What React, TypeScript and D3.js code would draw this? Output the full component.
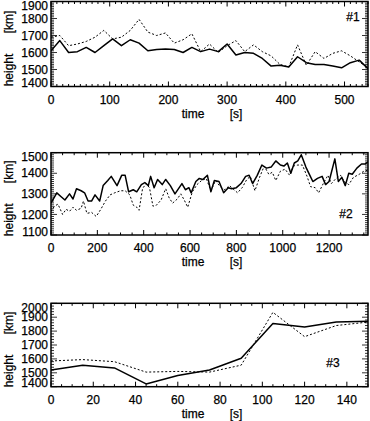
import React from "react";
import * as d3 from "d3";

// ---------- Panel #1 data ----------
const p1Time = [0, 15, 30, 45, 60, 75, 90, 105, 120, 135, 150, 165, 180, 195, 210, 225, 240, 255, 270, 285, 300, 315, 330, 345, 360, 375, 390, 405, 420, 435, 450, 465, 480, 495, 510, 525, 540];
const p1Solid = [1610, 1670, 1600, 1605, 1630, 1600, 1640, 1680, 1640, 1675, 1655, 1610, 1618, 1620, 1618, 1600, 1630, 1605, 1620, 1605, 1650, 1585, 1600, 1595, 1565, 1520, 1525, 1515, 1575, 1540, 1530, 1530, 1520, 1510, 1540, 1555, 1505];
const p1Dotted = [1690, 1700, 1640, 1650, 1665, 1690, 1730, 1680, 1690, 1730, 1795, 1720, 1700, 1715, 1655, 1675, 1710, 1605, 1650, 1600, 1640, 1670, 1605, 1645, 1605, 1580, 1530, 1515, 1645, 1525, 1605, 1565, 1595, 1610, 1580, 1545, 1510];

// ---------- Panel #2 data ----------
const p2SolidTime = [0, 25, 45, 60, 80, 95, 110, 130, 145, 160, 175, 190, 210, 225, 245, 260, 285, 305, 320, 335, 355, 370, 390, 405, 420, 430, 445, 460, 480, 495, 515, 535, 565, 580, 595, 605, 625, 640, 655, 675, 690, 705, 725, 745, 765, 780, 800, 820, 840, 855, 870, 890, 910, 930, 950, 970, 990, 1005, 1020, 1035, 1050, 1065, 1080, 1100, 1115, 1130, 1150, 1170, 1185, 1200, 1225, 1240, 1255, 1270, 1285, 1300, 1320, 1340, 1355, 1368];
const p2Solid = [1255, 1305, 1285, 1270, 1300, 1275, 1325, 1315, 1305, 1265, 1265, 1295, 1265, 1340, 1365, 1385, 1340, 1390, 1390, 1310, 1320, 1310, 1345, 1355, 1340, 1385, 1330, 1370, 1345, 1370, 1340, 1300, 1350, 1320, 1330, 1305, 1360, 1375, 1370, 1390, 1310, 1365, 1360, 1305, 1330, 1325, 1330, 1350, 1385, 1390, 1350, 1390, 1440, 1425, 1430, 1460, 1440, 1435, 1450, 1400, 1450, 1460, 1490, 1430, 1395, 1360, 1375, 1385, 1345, 1360, 1470, 1360, 1380, 1340, 1400, 1395, 1425, 1445, 1445, 1455];
const p2DottedTime = [0, 15, 30, 50, 65, 80, 95, 110, 130, 140, 155, 175, 195, 215, 235, 255, 275, 300, 320, 340, 355, 370, 380, 395, 410, 425, 440, 455, 475, 495, 510, 525, 545, 560, 575, 590, 610, 630, 650, 670, 690, 710, 730, 750, 770, 790, 805, 825, 845, 860, 880, 900, 920, 940, 955, 970, 990, 1010, 1030, 1045, 1065, 1085, 1105, 1120, 1140, 1155, 1175, 1195, 1210, 1230, 1250, 1265, 1285, 1305, 1330, 1350, 1368];
const p2Dotted = [1215, 1240, 1250, 1200, 1225, 1215, 1235, 1220, 1230, 1265, 1205, 1210, 1190, 1225, 1265, 1295, 1305, 1315, 1315, 1295, 1245, 1235, 1220, 1325, 1350, 1330, 1240, 1245, 1270, 1325, 1280, 1255, 1275, 1300, 1270, 1235, 1310, 1345, 1365, 1375, 1315, 1365, 1335, 1320, 1340, 1320, 1305, 1330, 1370, 1385, 1315, 1380, 1435, 1395, 1405, 1365, 1410, 1420, 1390, 1435, 1440, 1440, 1385, 1335, 1330, 1305, 1350, 1390, 1350, 1375, 1390, 1360, 1345, 1380, 1395, 1410, 1415];

// ---------- Panel #3 data ----------
const p3Time = [0, 15, 30, 45, 60, 75, 90, 105, 120, 135, 150];
const p3Solid = [1520, 1555, 1535, 1420, 1480, 1520, 1605, 1855, 1830, 1865, 1870];
const p3Dotted = [1585, 1595, 1580, 1505, 1510, 1505, 1555, 1935, 1760, 1840, 1865];

const FONT = "'Liberation Sans', Arial, Helvetica, sans-serif";
const LEFT = 51;
const RIGHT = 368;

type PanelProps = {
  id: string;
  top: number;
  bottom: number;
  xDomain: [number, number];
  yDomain: [number, number];
  xMajor: number;
  xMinor: number;
  yMajor: number;
  yMinor: number;
  solidT: number[];
  solidV: number[];
  dotT: number[];
  dotV: number[];
  tag: string;
  tagX: number;
  tagY: number;
};

function range(a: number, b: number, step: number): number[] {
  const out: number[] = [];
  for (let v = a; v <= b + 1e-9; v += step) out.push(Math.round(v * 1000) / 1000);
  return out;
}

const textStyle = {
  fontSize: 12,
  fontFamily: FONT,
  fill: "#000",
  stroke: "#000",
  strokeWidth: 0.25,
} as const;

function Panel(p: PanelProps) {
  const x = d3.scaleLinear().domain(p.xDomain).range([LEFT, RIGHT]);
  const y = d3.scaleLinear().domain(p.yDomain).range([p.bottom, p.top]);
  const line = d3
    .line<[number, number]>()
    .x((d) => x(d[0]))
    .y((d) => y(d[1]));
  const solid = line(p.solidT.map((t, i) => [t, p.solidV[i]]) as [number, number][]) || "";
  const dotted = line(p.dotT.map((t, i) => [t, p.dotV[i]]) as [number, number][]) || "";

  const xMaj = range(Math.ceil(p.xDomain[0] / p.xMajor) * p.xMajor, p.xDomain[1], p.xMajor);
  const xMin = range(Math.ceil(p.xDomain[0] / p.xMinor) * p.xMinor, p.xDomain[1], p.xMinor);
  const yMaj = range(Math.ceil(p.yDomain[0] / p.yMajor) * p.yMajor, p.yDomain[1], p.yMajor);
  const yMin = range(Math.ceil(p.yDomain[0] / p.yMinor) * p.yMinor, p.yDomain[1], p.yMinor);

  const clipId = "clip-" + p.id;
  const midY = (p.top + p.bottom) / 2;
  const xLabelY = p.bottom + 13;
  const titleY = p.bottom + 27;

  return (
    <g>
      <defs>
        <clipPath id={clipId}>
          <rect x={LEFT} y={p.top} width={RIGHT - LEFT} height={p.bottom - p.top} />
        </clipPath>
      </defs>
      <g clipPath={`url(#${clipId})`}>
        <path d={dotted} fill="none" stroke="#000" strokeWidth={1} strokeDasharray="2,2" />
        <path d={solid} fill="none" stroke="#000" strokeWidth={1.5} strokeLinejoin="round" />
      </g>
      <rect x={LEFT} y={p.top} width={RIGHT - LEFT} height={p.bottom - p.top} fill="none" stroke="#000" strokeWidth={1.5} />
      {xMin.map((v) => {
        const major = xMaj.some((m) => Math.abs(m - v) < 1e-6);
        const len = major ? 5 : 2.5;
        return (
          <g key={"xt" + v}>
            <line x1={x(v)} x2={x(v)} y1={p.bottom} y2={p.bottom - len} stroke="#000" strokeWidth={1} />
            <line x1={x(v)} x2={x(v)} y1={p.top} y2={p.top + len} stroke="#000" strokeWidth={1} />
          </g>
        );
      })}
      {yMin.map((v) => {
        const major = yMaj.some((m) => Math.abs(m - v) < 1e-6);
        const len = major ? 6 : 3;
        return (
          <g key={"yt" + v}>
            <line x1={LEFT} x2={LEFT + len} y1={y(v)} y2={y(v)} stroke="#000" strokeWidth={0.8} />
            <line x1={RIGHT} x2={RIGHT - len} y1={y(v)} y2={y(v)} stroke="#000" strokeWidth={0.8} />
          </g>
        );
      })}
      {xMaj.map((v) => (
        <text key={"xl" + v} x={x(v)} y={xLabelY} dy="0.35em" textAnchor="middle" style={textStyle}>
          {v}
        </text>
      ))}
      {yMaj.map((v) => {
        const yy = Math.min(Math.max(y(v), p.top + 4), p.bottom - 3.5);
        return (
          <text key={"yl" + v} x={LEFT - 3} y={yy} dy="0.35em" textAnchor="end" style={textStyle}>
            {v}
          </text>
        );
      })}
      <text x={193} y={titleY} dy="0.35em" textAnchor="middle" style={textStyle}>
        time
      </text>
      <text x={236} y={titleY} dy="0.35em" textAnchor="middle" style={textStyle}>
        [s]
      </text>
      <text transform={`translate(9,${midY + 26}) rotate(-90)`} dy="0.35em" textAnchor="middle" style={textStyle}>
        height
      </text>
      <text transform={`translate(9,${midY - 22}) rotate(-90)`} dy="0.35em" textAnchor="middle" style={textStyle}>
        [km]
      </text>
      <text x={p.tagX} y={p.tagY} dy="0.35em" textAnchor="middle" style={textStyle}>
        {p.tag}
      </text>
    </g>
  );
}

export default function App() {
  return (
    <svg width={370} height={421} style={{ position: "absolute", left: 0, top: 0, background: "#fff" }}>
      <rect x={0} y={0} width={370} height={421} fill="#fff" />
      <Panel
        id="p1"
        top={1.5}
        bottom={86.5}
        xDomain={[0, 540]}
        yDomain={[1400, 1900]}
        xMajor={100}
        xMinor={10}
        yMajor={100}
        yMinor={10}
        solidT={p1Time}
        solidV={p1Solid}
        dotT={p1Time}
        dotV={p1Dotted}
        tag="#1"
        tagX={353}
        tagY={17}
      />
      <Panel
        id="p2"
        top={152.7}
        bottom={235}
        xDomain={[0, 1368]}
        yDomain={[1100, 1500]}
        xMajor={200}
        xMinor={50}
        yMajor={100}
        yMinor={10}
        solidT={p2SolidTime}
        solidV={p2Solid}
        dotT={p2DottedTime}
        dotV={p2Dotted}
        tag="#2"
        tagX={346}
        tagY={214}
      />
      <Panel
        id="p3"
        top={303.3}
        bottom={386.7}
        xDomain={[0, 150]}
        yDomain={[1400, 2000]}
        xMajor={20}
        xMinor={5}
        yMajor={100}
        yMinor={20}
        solidT={p3Time}
        solidV={p3Solid}
        dotT={p3Time}
        dotV={p3Dotted}
        tag="#3"
        tagX={333}
        tagY={363}
      />
    </svg>
  );
}
